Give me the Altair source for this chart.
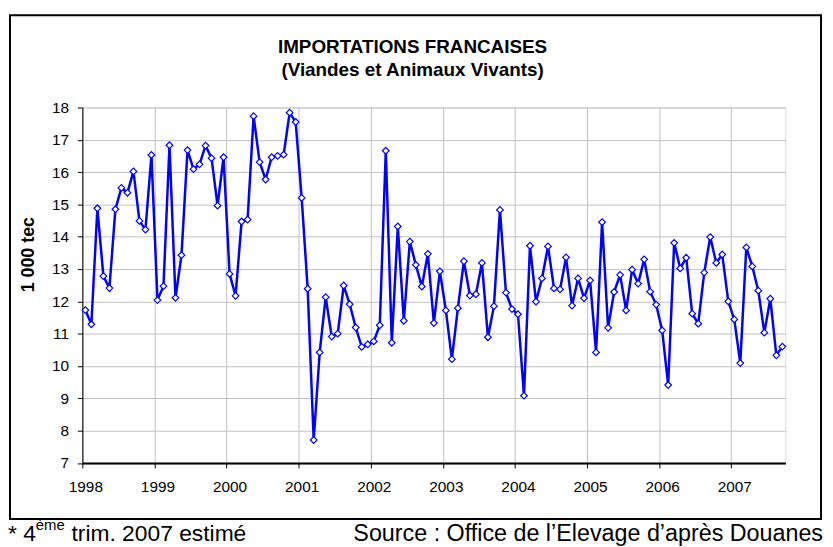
import altair as alt
import pandas as pd

# ---- data (monthly imports, 1 000 tec) ----
YEARS = [1998, 1999, 2000, 2001, 2002, 2003, 2004, 2005, 2006, 2007]
v1998 = [11.73, 11.29, 14.88, 12.78, 12.41, 14.85, 15.51, 15.36, 16.02, 14.49, 14.22, 16.53]
v1999 = [12.04, 12.47, 16.83, 12.11, 13.43, 16.68, 16.09, 16.24, 16.82, 16.43, 14.96, 16.46]
v2000 = [12.85, 12.17, 14.47, 14.53, 17.73, 16.31, 15.77, 16.46, 16.50, 16.54, 17.84, 17.55]
v2001 = [15.20, 12.39, 7.71, 10.42, 12.13, 10.91, 11.00, 12.49, 11.91, 11.19, 10.59, 10.67]
v2002 = [10.76, 11.26, 16.66, 10.72, 14.32, 11.40, 13.85, 13.13, 12.46, 13.47, 11.33, 12.93]
v2003 = [11.72, 10.21, 11.79, 13.24, 12.18, 12.22, 13.19, 10.89, 11.85, 14.83, 12.27, 11.76]
v2004 = [11.60, 9.08, 13.72, 11.99, 12.71, 13.70, 12.40, 12.37, 13.36, 11.87, 12.71, 12.10]
v2005 = [12.65, 10.42, 14.45, 11.18, 12.29, 12.82, 11.72, 12.98, 12.55, 13.30, 12.30, 11.90]
v2006 = [11.10, 9.41, 13.81, 13.02, 13.35, 11.62, 11.31, 12.89, 13.99, 13.19, 13.45, 12.00]
v2007 = [11.44, 10.09, 13.67, 13.08, 12.33, 11.03, 12.08, 10.33, 10.60]
Y_TICKS = list(range(7, 19))

TITLE_1 = "IMPORTATIONS FRANCAISES"
TITLE_2 = "(Viandes et Animaux Vivants)"
Y_TITLE = "1 000 tec"
NOTE_A = "* 4"
NOTE_SUP = "ème"
NOTE_B = "trim. 2007 estimé"
SOURCE = "Source : Office de l’Elevage d’après Douanes"

series = [v1998, v1999, v2000, v2001, v2002, v2003, v2004, v2005, v2006, v2007]
rows = []
for y, vals in zip(YEARS, series):
    for m, v in enumerate(vals):
        rows.append({"idx": len(rows), "annee": y, "mois": m + 1, "valeur": v})
df = pd.DataFrame(rows)
n = len(df)

FONT = "Liberation Sans"
W, H = 709, 358.5

year_bounds = [12 * k - 0.5 for k in range(len(YEARS))]
years_js = "[" + ",".join(str(y) for y in YEARS) + "]"

x_enc = alt.X(
    "idx:Q",
    scale=alt.Scale(domain=[-0.5, n - 0.5], nice=False, zero=False),
    axis=alt.Axis(
        values=year_bounds,
        labelExpr=years_js + "[round((datum.value + 0.5) / 12)]",
        title=None,
        grid=True,
        gridColor="#c0c0c0",
        gridWidth=1,
        domainColor="black",
        domainWidth=2,
        tickColor="black",
        tickSize=5,
        labelFont=FONT,
        labelFontSize=15.5,
        labelColor="black",
        labelPadding=12,
        labelOffset=3,
        labelFlush=False,
        labelOverlap=False,
    ),
)
y_enc = alt.Y(
    "valeur:Q",
    scale=alt.Scale(domain=[7, 18], nice=False, zero=False),
    axis=alt.Axis(
        values=Y_TICKS,
        title=Y_TITLE,
        titleFont=FONT,
        titleFontSize=18,
        titleFontWeight="bold",
        titleColor="black",
        titleAngle=270,
        titleAlign="center",
        titleBaseline="middle",
        titleX=-54,
        titleY=148,
        grid=True,
        gridColor="#c0c0c0",
        gridWidth=1,
        domainColor="black",
        domainWidth=1,
        tickColor="black",
        tickSize=5,
        labelFont=FONT,
        labelFontSize=15.5,
        labelColor="black",
        labelPadding=9,
        labelFlush=False,
        labelOverlap=False,
    ),
)

base = alt.Chart(df).encode(x=x_enc, y=y_enc)
line = base.mark_line(color="#0000FF", strokeWidth=2.5)
pts = base.mark_point(
    shape="diamond", filled=True, fill="white", stroke="#0000FF",
    strokeWidth=1.2, size=45, opacity=1
)

one = alt.Data(values=[{"k": 1}])
frame = alt.Chart(one).mark_rect(fill=None, stroke="black", strokeWidth=2).encode(
    x=alt.value(-73), x2=alt.value(745), y=alt.value(-93), y2=alt.value(415)
)
title_style = dict(font=FONT, fontSize=19, fontWeight="bold", color="black",
                   align="center", baseline="middle")
title1 = alt.Chart(one).mark_text(**title_style).encode(
    x=alt.value(333), y=alt.value(-61), text=alt.value(TITLE_1))
title2 = alt.Chart(one).mark_text(**title_style).encode(
    x=alt.value(333), y=alt.value(-38), text=alt.value(TITLE_2))

txt_style = dict(font=FONT, color="black", align="left", baseline="alphabetic")
note_a = alt.Chart(one).mark_text(fontSize=23, **txt_style).encode(
    x=alt.value(-75), y=alt.value(437), text=alt.value(NOTE_A))
note_sup = alt.Chart(one).mark_text(fontSize=15, **txt_style).encode(
    x=alt.value(-47), y=alt.value(426), text=alt.value(NOTE_SUP))
note_b = alt.Chart(one).mark_text(fontSize=23, **txt_style).encode(
    x=alt.value(-11), y=alt.value(437), text=alt.value(NOTE_B))
source = alt.Chart(one).mark_text(fontSize=23.5, font=FONT, color="black",
                                  align="right", baseline="alphabetic").encode(
    x=alt.value(747), y=alt.value(437), text=alt.value(SOURCE))

chart = alt.layer(line, pts, frame, title1, title2, note_a, note_sup, note_b, source).properties(
    width=W,
    height=H,
    autosize=alt.AutoSizeParams(type="none"),
    padding={"left": 75, "top": 98, "right": 40, "bottom": 84},
).configure_view(stroke="#333333", strokeWidth=1).configure(background="white")

chart.save("out.html", embed_options={"renderer": "svg", "actions": False})
